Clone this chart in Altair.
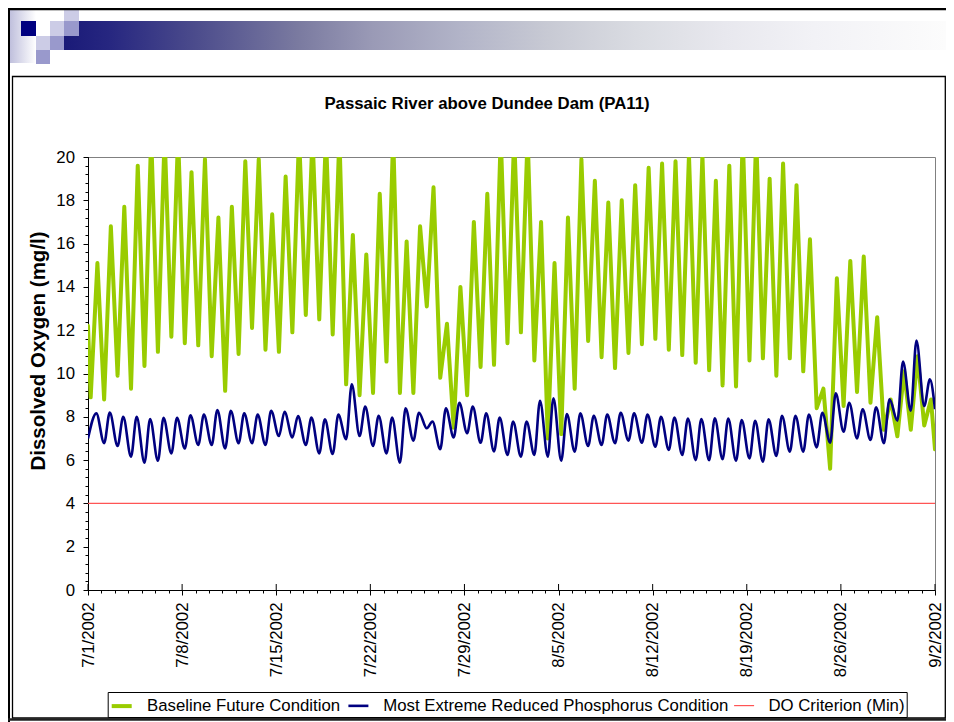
import altair as alt
import pandas as pd

# ---------------- text ----------------
CHART_TITLE = "Passaic River above Dundee Dam (PA11)"
Y_TITLE = "Dissolved Oxygen (mg/l)"
SERIES = ["Baseline Future Condition",
          "Most Extreme Reduced Phosphorus Condition",
          "DO Criterion (Min)"]
COLORS = ["#99CC00", "#000080", "#FF5555"]
WIDTHS = [4, 1.2, 1.1]

DATE_LABELS = ["7/1/2002", "7/8/2002", "7/15/2002", "7/22/2002", "7/29/2002",
               "8/5/2002", "8/12/2002", "8/19/2002", "8/26/2002", "9/2/2002"]
TICK_DAYS = [0, 7, 14, 21, 28, 35, 42, 49, 56, 63]
MINOR_DAYS = list(range(64))
Y_TICKS = [0, 2, 4, 6, 8, 10, 12, 14, 16, 18, 20]
Y_MINOR = [round(i * 0.4, 1) for i in range(51)]
CRITERION = [4.0]

# ---------------- data (daily min / max) ----------------
BASE_START = 12.2
BASE_MIN = [8.9, 8.8, 9.9, 9.3, 10.35, 11.0, 11.7, 11.4, 11.3, 10.8,
            9.2, 10.9, 12.1, 11.1, 11.0, 11.9, 12.7, 12.5, 11.8, 9.5,
            9.0, 9.1, 10.55, 9.1, 9.1, 13.1, 9.8, 7.5, 9.0, 10.3,
            10.4, 11.4, 11.9, 10.6, 7.0, 7.2, 9.3, 11.5, 10.75, 10.25,
            10.95, 11.35, 11.6, 11.1, 10.85, 10.5, 10.15, 9.45, 9.4, 10.6,
            10.7, 9.9, 10.7, 10.1, 8.4, 5.6, 8.5, 9.15, 8.65, 7.4,
            7.1, 7.4, 7.6]
BASE_MAX = [15.1, 16.8, 17.7, 19.6, 21.0, 21.0, 21.0, 19.3, 19.9, 17.2,
            17.7, 19.8, 19.9, 17.35, 19.1, 21.0, 21.0, 21.0, 21.0, 16.4,
            15.5, 18.3, 21.0, 16.1, 16.8, 18.6, 12.3, 14.0, 17.0, 18.3,
            21.0, 21.0, 21.0, 17.0, 15.1, 17.2, 19.9, 18.9, 17.9, 18.0,
            18.7, 19.5, 19.7, 19.8, 20.1, 20.1, 18.9, 19.6, 21.0, 21.0,
            19.0, 19.7, 18.7, 16.2, 9.3, 14.4, 15.2, 15.4, 12.6, 8.8,
            10.1, 10.8, 8.8]
BASE_END = 6.5

RED_MIN = [7.0, 6.78, 6.65, 6.16, 5.88, 5.97, 6.31, 6.54, 6.7, 6.7,
           6.54, 6.78, 6.78, 6.7, 7.11, 7.05, 6.7, 6.31, 6.28, 6.96,
           7.11, 6.65, 6.31, 5.88, 6.9, 7.47, 6.5, 7.05, 7.24, 6.8,
           6.4, 6.24, 6.16, 6.24, 6.16, 5.97, 6.39, 6.65, 6.7, 6.78,
           6.9, 6.8, 6.62, 6.47, 6.24, 6.0, 6.0, 6.04, 5.97, 6.08,
           5.93, 6.19, 6.39, 6.39, 6.59, 6.8, 7.31, 7.0, 6.93, 6.78,
           7.82, 8.28, 8.5]
RED_MAX = [8.16, 8.2, 8.0, 8.0, 7.9, 7.95, 7.95, 8.07, 8.1, 8.31,
           8.28, 8.16, 8.1, 8.28, 8.23, 8.03, 7.96, 7.88, 8.1, 9.5,
           8.47, 8.05, 7.96, 8.39, 8.19, 7.78, 8.39, 8.65, 8.47, 8.16,
           7.96, 7.78, 7.78, 8.74, 8.85, 8.13, 8.16, 8.05, 8.1, 8.19,
           8.16, 8.1, 8.0, 7.97, 7.92, 7.9, 7.93, 7.92, 7.85, 7.82,
           7.88, 8.05, 8.05, 8.1, 8.19, 9.08, 8.65, 8.35, 8.44, 8.81,
           10.55, 11.52, 9.73]
RED_END = 8.35


def build(name, start, mins, maxs, end, max_phase):
    rows = []
    if start is not None:
        rows.append({"t": 0.0, "v": start, "s": name})
    for k, (lo, hi) in enumerate(zip(mins, maxs)):
        t_lo = k + 0.2 if (k > 0 or start is not None) else 0.0
        rows.append({"t": t_lo, "v": lo, "s": name})
        rows.append({"t": k + max_phase, "v": hi, "s": name})
    rows.append({"t": 63.0, "v": end, "s": name})
    return rows


base_df = pd.DataFrame(build(SERIES[0], BASE_START, BASE_MIN, BASE_MAX, BASE_END, 0.7))
red_df = pd.DataFrame(build(SERIES[1], None, RED_MIN, RED_MAX, RED_END, 0.62))
crit_df = pd.DataFrame({"v": CRITERION, "s": [SERIES[2]] * len(CRITERION)})
tick_df = pd.DataFrame({"d": TICK_DAYS})

W, H = 847, 433
FONT = "Liberation Sans"

x_scale = alt.Scale(domain=[0, 63], nice=False, zero=False)
y_scale = alt.Scale(domain=[0, 20], nice=False, zero=True)
color_scale = alt.Scale(domain=SERIES, range=COLORS)
width_scale = alt.Scale(domain=SERIES, range=WIDTHS)

label_expr = "[" + ",".join("'%s'" % d for d in DATE_LABELS) + "][round(datum.value / 7)]"

legend = alt.Legend(
    title=None, orient="none", legendX=19.7, legendY=535, direction="horizontal",
    symbolType="stroke", symbolSize=400, labelOffset=13.3, columnPadding=2.2,
    labelFontSize=16.8, labelFont=FONT, labelColor="black", labelLimit=0,
    strokeColor="black", padding=2, fillColor="white",
)
color_enc = alt.Color("s:N", scale=color_scale, legend=legend)
width_enc = alt.StrokeWidth("s:N", scale=width_scale, legend=legend)

base_line = alt.Chart(base_df).mark_line(
    interpolate="linear", clip=True, strokeJoin="round", strokeCap="round"
).encode(
    x=alt.X("t:Q", scale=x_scale, axis=alt.Axis(
        orient="bottom", values=TICK_DAYS, labelExpr=label_expr, tickSize=5,
        labelAngle=270, labelAlign="right", labelBaseline="middle", labelPadding=7,
        labelFontSize=16.8, labelFont=FONT, labelColor="black", labelOverlap=False,
        labelFlush=False, domainColor="black", tickColor="black", title=None, grid=False)),
    y=alt.Y("v:Q", scale=y_scale, axis=alt.Axis(
        orient="left", values=Y_TICKS, tickSize=5, labelPadding=8.5,
        labelFontSize=16.8, labelFont=FONT, labelColor="black",
        domainColor="black", tickColor="black", grid=False,
        title=Y_TITLE, titleFont=FONT, titleFontSize=20.5, titleFontWeight="bold",
        titleColor="black", titleX=-50, titleY=193.5, titleAngle=270,
        titleAlign="center", titleBaseline="middle")),
    color=color_enc,
    strokeWidth=width_enc,
    order="t:Q",
)

red_line = alt.Chart(red_df).mark_line(
    interpolate="monotone", clip=True
).encode(
    x=alt.X("t:Q", scale=x_scale, axis=alt.Axis(
        orient="bottom", values=MINOR_DAYS, tickSize=3, labels=False, domain=False,
        tickColor="black", title=None, grid=False)),
    y=alt.Y("v:Q", scale=y_scale, axis=alt.Axis(
        orient="left", values=Y_MINOR, tickSize=3, labels=False, domain=False,
        tickColor="black", title=None, grid=False)),
    color=color_enc,
    strokeWidth=width_enc,
    order="t:Q",
)

crit_rule = alt.Chart(crit_df).mark_rule().encode(
    y=alt.Y("v:Q", scale=y_scale, axis=None),
    color=color_enc,
    strokeWidth=width_enc,
)

up_ticks = alt.Chart(tick_df).mark_rule(color="black", strokeWidth=1).encode(
    x=alt.X("d:Q", scale=x_scale, axis=None),
    y=alt.value(H), y2=alt.value(H - 6),
)

title_layer = alt.Chart(alt.Data(values=[{"title": CHART_TITLE}])).mark_text(
    font=FONT, fontSize=16.8, fontWeight="bold", color="black",
    align="center", baseline="alphabetic"
).encode(x=alt.value(399), y=alt.value(-48), text="title:N")

# ---------------- slide decoration (pixel layout, not data) ----------------
ONE = alt.Data(values=[{"k": 0}])


def rect(x, x2, y, y2, **kw):
    return alt.Chart(ONE).mark_rect(**kw).encode(
        x=alt.value(x), x2=alt.value(x2), y=alt.value(y), y2=alt.value(y2))


def rule(x, x2, y, y2, **kw):
    return alt.Chart(ONE).mark_rule(**kw).encode(
        x=alt.value(x), x2=alt.value(x2), y=alt.value(y), y2=alt.value(y2))


bar_grad = alt.LinearGradient(gradient="linear", x1=0, y1=0, x2=1, y2=0, stops=[
    alt.GradientStop(offset=0.0, color="#1A1A78"),
    alt.GradientStop(offset=0.05, color="#262680"),
    alt.GradientStop(offset=0.15, color="#4C4C8C"),
    alt.GradientStop(offset=0.265, color="#7A7AA0"),
    alt.GradientStop(offset=0.35, color="#9A9AB6"),
    alt.GradientStop(offset=0.45, color="#B2B4C8"),
    alt.GradientStop(offset=0.55, color="#C8CAD4"),
    alt.GradientStop(offset=0.65, color="#DADCE2"),
    alt.GradientStop(offset=0.75, color="#E8E8EE"),
    alt.GradientStop(offset=0.85, color="#F2F2F6"),
    alt.GradientStop(offset=1.0, color="#FCFCFC"),
])
strip_grad = alt.LinearGradient(gradient="linear", x1=0, y1=0, x2=1, y2=0, stops=[
    alt.GradientStop(offset=0.0, color="#BDBDDB"),
    alt.GradientStop(offset=1.0, color="#FFFFFF"),
])
LIGHT, MED, NAVY = "#CCCCE6", "#9999CC", "#000080"

decor = [
    rect(-79, -52, -147, -94, color=strip_grad),
    rect(-24, 858, -136, -107, color=bar_grad),
    rect(-67, -52, -136, -121, color=NAVY),
    rect(-24, -9, -147, -136, color=LIGHT),
    rect(-38, -24, -136, -121, color=LIGHT),
    rect(-24, -9, -136, -121, color=MED),
    rect(-52, -38, -121, -107, color=LIGHT),
    rect(-38, -24, -121, -107, color=MED),
    rect(-52, -38, -107, -93, color=MED),
    rect(-75.5, 857.3, -80.5, 561, fillOpacity=0, stroke="black", strokeWidth=1.3),
    rule(-80, 858, -148, -148, color="black", strokeWidth=2.5),
    rule(-79, -79, -149, 565, color="black", strokeWidth=2),
    rule(-80, 858, 562.5, 562.5, color="#202020", strokeWidth=2.5),
]

chart = alt.layer(
    *decor, crit_rule, base_line, red_line, up_ticks, title_layer
).resolve_axis(
    x="independent", y="independent"
).properties(
    width=W, height=H,
    autosize=alt.AutoSizeParams(type="none"),
    padding={"left": 80, "top": 149, "right": 11, "bottom": 132},
).configure(font=FONT).configure_view(stroke="#808080", strokeWidth=1)

chart.save("out.html", embed_options={"renderer": "svg", "actions": False})
